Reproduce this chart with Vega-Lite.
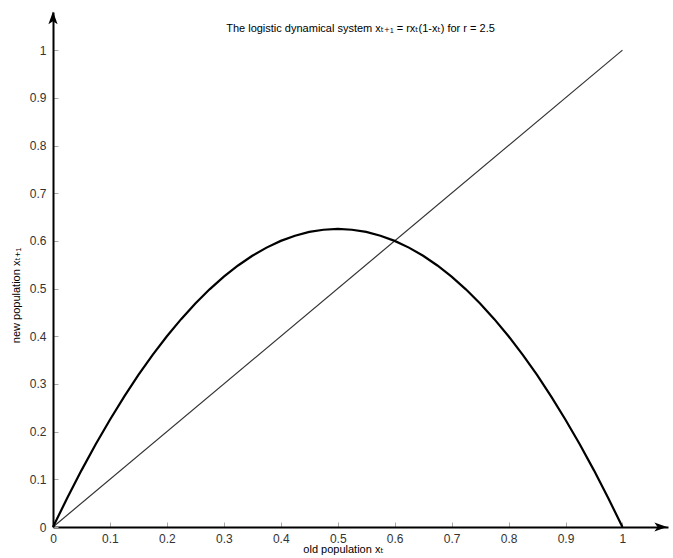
{
  "$schema": "https://vega.github.io/schema/vega-lite/v6.json",
  "width": 615,
  "height": 515,
  "autosize": {"type": "none"},
  "padding": {"left": 53, "top": 12, "right": 5, "bottom": 31},
  "background": "white",
  "config": {"view": {"stroke": null}, "font": "Liberation Sans, DejaVu Sans"},
  "title": {"text": "The logistic dynamical system xₜ₊₁ = rxₜ(1-xₜ) for r = 2.5", "fontSize": 11, "fontWeight": "normal", "offset": -22, "color": "black", "font": "Liberation Sans, DejaVu Sans"},
  "datasets": {
    "diag": [{"x": 0, "y": 0}, {"x": 1, "y": 1}],
    "curve": [
      {"x": 0, "y": 0}, {"x": 0.025, "y": 0.0609}, {"x": 0.05, "y": 0.1188}, {"x": 0.075, "y": 0.1734},
      {"x": 0.1, "y": 0.225}, {"x": 0.125, "y": 0.2734}, {"x": 0.15, "y": 0.3188}, {"x": 0.175, "y": 0.3609},
      {"x": 0.2, "y": 0.4}, {"x": 0.225, "y": 0.4359}, {"x": 0.25, "y": 0.4688}, {"x": 0.275, "y": 0.4984},
      {"x": 0.3, "y": 0.525}, {"x": 0.325, "y": 0.5484}, {"x": 0.35, "y": 0.5688}, {"x": 0.375, "y": 0.5859},
      {"x": 0.4, "y": 0.6}, {"x": 0.425, "y": 0.6109}, {"x": 0.45, "y": 0.6188}, {"x": 0.475, "y": 0.6234},
      {"x": 0.5, "y": 0.625}, {"x": 0.525, "y": 0.6234}, {"x": 0.55, "y": 0.6188}, {"x": 0.575, "y": 0.6109},
      {"x": 0.6, "y": 0.6}, {"x": 0.625, "y": 0.5859}, {"x": 0.65, "y": 0.5688}, {"x": 0.675, "y": 0.5484},
      {"x": 0.7, "y": 0.525}, {"x": 0.725, "y": 0.4984}, {"x": 0.75, "y": 0.4688}, {"x": 0.775, "y": 0.4359},
      {"x": 0.8, "y": 0.4}, {"x": 0.825, "y": 0.3609}, {"x": 0.85, "y": 0.3188}, {"x": 0.875, "y": 0.2734},
      {"x": 0.9, "y": 0.225}, {"x": 0.925, "y": 0.1734}, {"x": 0.95, "y": 0.1188}, {"x": 0.975, "y": 0.0609},
      {"x": 1, "y": 0}
    ],
    "arrows": [{"x": 0, "y": 1.066, "dir": "up"}, {"x": 1.066, "y": 0, "dir": "right"}]
  },
  "layer": [
    {
      "data": {"name": "diag"},
      "mark": {"type": "line", "color": "#333", "strokeWidth": 1.2},
      "encoding": {
        "x": {"field": "x", "type": "quantitative", "scale": {"domain": [0, 1.08], "nice": false, "zero": false},
          "axis": {"values": [0, 0.1, 0.2, 0.3, 0.4, 0.5, 0.6, 0.7, 0.8, 0.9, 1], "format": "~g", "grid": false, "domainColor": "black", "domainWidth": 2,
            "tickColor": "#aaa", "tickSize": -5, "labelPadding": 11, "labelFontSize": 12, "labelColor": "#333", "labelFlush": false,
            "title": "old population xₜ", "titleFontWeight": "normal", "titleFontSize": 11, "titleColor": "black", "titleX": 290, "titleY": 22, "titleBaseline": "middle"}},
        "y": {"field": "y", "type": "quantitative", "scale": {"domain": [0, 1.08], "nice": false, "zero": false},
          "axis": {"values": [0, 0.1, 0.2, 0.3, 0.4, 0.5, 0.6, 0.7, 0.8, 0.9, 1], "format": "~g", "grid": false, "domainColor": "black", "domainWidth": 2,
            "tickColor": "#aaa", "tickSize": -5, "labelPadding": 12, "labelFontSize": 12, "labelColor": "#333", "labelFlush": false,
            "title": "new population xₜ₊₁", "titleFontWeight": "normal", "titleFontSize": 11, "titleColor": "black", "titleY": 283, "titleX": -37, "titleBaseline": "middle"}}
      }
    },
    {
      "data": {"name": "curve"},
      "mark": {"type": "line", "color": "black", "strokeWidth": 2.2},
      "encoding": {
        "x": {"field": "x", "type": "quantitative"},
        "y": {"field": "y", "type": "quantitative"}
      }
    },
    {
      "data": {"name": "arrows"},
      "mark": {"type": "point", "filled": true, "color": "black", "opacity": 1, "size": 200},
      "encoding": {
        "x": {"field": "x", "type": "quantitative"},
        "y": {"field": "y", "type": "quantitative"},
        "shape": {"field": "dir", "type": "nominal", "legend": null,
          "scale": {"domain": ["up", "right"], "range": ["M0,-1L0.65,0.8L0,0.35L-0.65,0.8Z", "M1,0L-0.8,0.65L-0.35,0L-0.8,-0.65Z"]}}
      }
    }
  ]
}
